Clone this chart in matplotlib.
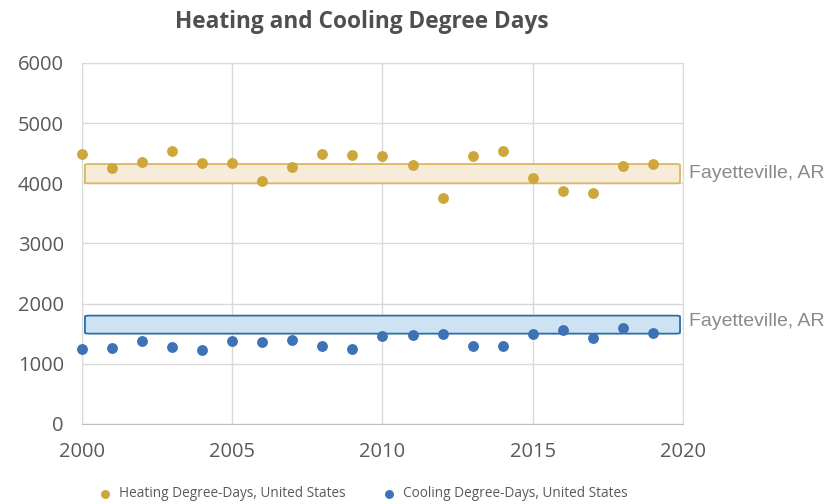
import numpy as np
import matplotlib.pyplot as plt
from matplotlib.patches import FancyBboxPatch

years = list(range(2000, 2020))
heating = [4490, 4260, 4350, 4540, 4340, 4340, 4040, 4270, 4490, 4470,
           4450, 4300, 3760, 4450, 4540, 4090, 3870, 3840, 4290, 4320]
cooling = [1250, 1265, 1380, 1280, 1230, 1380, 1360, 1400, 1300, 1250,
           1460, 1480, 1500, 1300, 1300, 1500, 1560, 1430, 1600, 1510]

# Fayetteville, AR ranges (low, high)
heat_band = (4000, 4320)
cool_band = (1500, 1800)
band_label = "Fayetteville, AR"

gold = "#CDA63C"
blue = "#3D72B6"
gray = "#595959"

plt.rcParams['font.family'] = ['Open Sans', 'DejaVu Sans']

fig = plt.figure(figsize=(8.36, 5.04), dpi=100)
ax = fig.add_axes([0.098, 0.159, 0.719, 0.716])

def band(lo, hi, face, edge):
    p = FancyBboxPatch((2000.1, lo), 19.8, hi - lo,
                       boxstyle="round,pad=0,rounding_size=0.15",
                       mutation_aspect=100,
                       facecolor=face, edgecolor=edge, linewidth=1.3, zorder=2)
    ax.add_patch(p)

band(*heat_band, "#F6ECD9", "#D8B863")
band(*cool_band, "#CDE2F2", "#2F6DA5")

ax.scatter(years, heating, s=46, color=gold, zorder=3, clip_on=False,
           label="Heating Degree-Days, United States")
ax.scatter(years, cooling, s=46, color=blue, zorder=3, clip_on=False,
           label="Cooling Degree-Days, United States")

ax.text(2020.2, sum(heat_band) / 2, band_label, color="#8A8A8A", fontsize=14,
        va="center", ha="left", family=['Liberation Sans'])
ax.text(2020.2, sum(cool_band) / 2 + 50, band_label, color="#8A8A8A", fontsize=14,
        va="center", ha="left", family=['Liberation Sans'])

ax.set_xlim(2000, 2020)
ax.set_ylim(0, 6000)
ax.set_xticks(range(2000, 2021, 5))
ax.set_yticks(range(0, 6001, 1000))
ax.grid(True, color="#D9D9D9", linewidth=1)
ax.set_axisbelow(True)
for s in ax.spines.values():
    s.set_color("#D9D9D9")
ax.spines["bottom"].set_color("#BFBFBF")
ax.tick_params(length=0, labelsize=14.5, colors=gray)
ax.tick_params(axis="x", pad=13)
ax.tick_params(axis="y", pad=13)

fig.text(0.433, 0.957, "Heating and Cooling Degree Days", ha="center", va="center",
         fontsize=16.3, fontweight="bold", color="#4F4F4F")

fig.legend(loc="center", bbox_to_anchor=(0.43, 0.02), ncol=2, frameon=False,
           fontsize=9.8, handletextpad=0.05, columnspacing=2.2, markerscale=0.8,
           labelcolor=gray)

fig.savefig("out.png", dpi=100)
